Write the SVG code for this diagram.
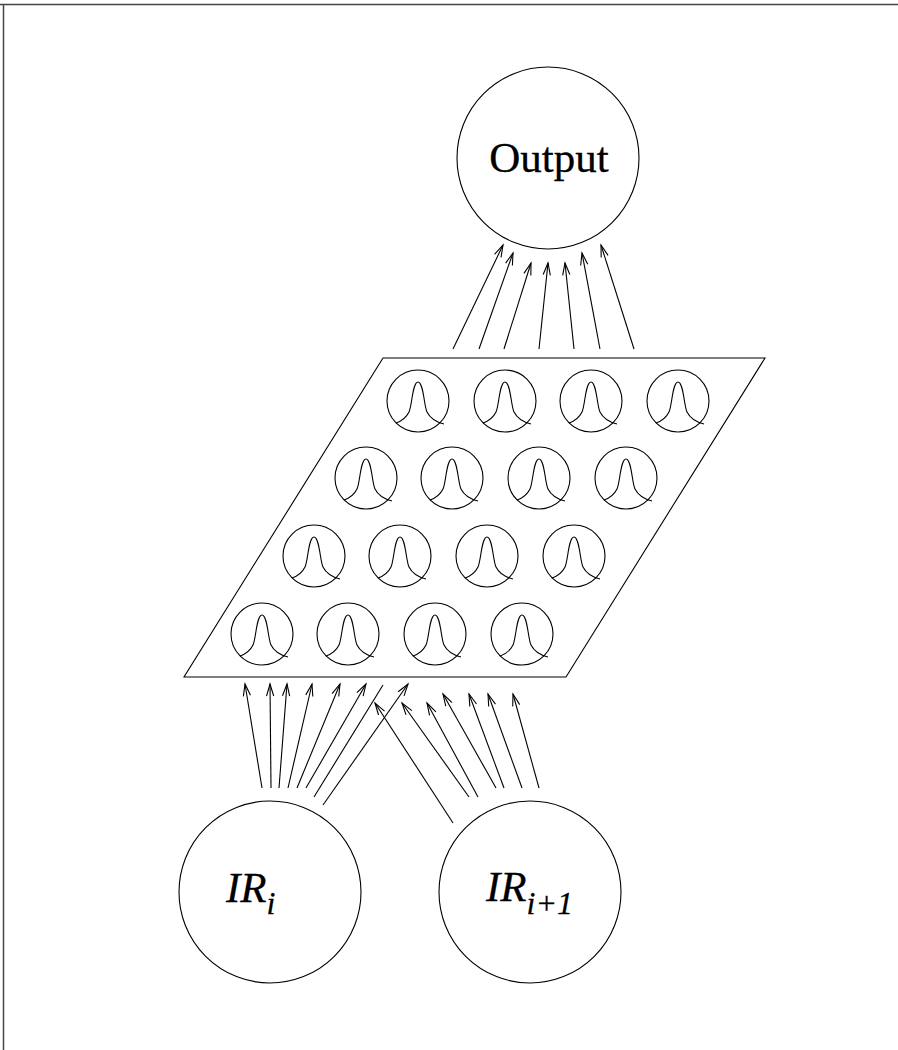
<svg xmlns="http://www.w3.org/2000/svg" xmlns:xlink="http://www.w3.org/1999/xlink" width="898" height="1050" viewBox="0 0 898 1050">
  <style>
    .node { fill: none; stroke: #000; stroke-width: 1.1; }
    .edge { fill: none; stroke: #000; stroke-width: 1.1; }
    .curve { fill: none; stroke: #000; stroke-width: 1.1; }
    .label { font-family: "Liberation Serif", "Times New Roman", serif; fill: #000; stroke: #000; stroke-width: 0.3; }
    .frame { stroke: #444; stroke-width: 1.5; }
  </style>
  <defs>
    <marker id="arrow" markerUnits="userSpaceOnUse" markerWidth="14" markerHeight="10" refX="0" refY="0" viewBox="-13 -5 14 10" orient="auto" overflow="visible">
      <path d="M-12,-3.6 L0,0 L-12,3.6" fill="none" stroke="#000" stroke-width="1.1"/>
    </marker>
    <!-- one radial-basis unit: ring with a bell-shaped response curve -->
    <g id="unit">
      <circle cx="0" cy="0" r="31" class="node"/>
      <path class="curve" d="M-22,22 C-16,20 -12,17 -9,11 C-6,5 -5.5,-19 0,-19 C5.5,-19 6,5 9,11 C12,17 18,21 26,23"/>
    </g>
  </defs>

  <rect x="0" y="0" width="898" height="1050" fill="#fff"/>
  <!-- page frame -->
  <line class="frame" x1="0" y1="4.5" x2="898" y2="4.5"/>
  <line class="frame" x1="3.5" y1="4" x2="3.5" y2="1050"/>

  <g id="output-node">
    <circle cx="548" cy="158" r="91" class="node"/>
    <text class="label" x="549" y="172" font-size="43" text-anchor="middle">Output</text>
  </g>

  <g id="rbf-layer">
    <polygon class="node" points="383,358 765,358 566,677 184,677"/>
    <use xlink:href="#unit" x="418" y="401"/>
    <use xlink:href="#unit" x="505" y="401"/>
    <use xlink:href="#unit" x="591" y="401"/>
    <use xlink:href="#unit" x="678" y="401"/>
    <use xlink:href="#unit" x="366" y="478"/>
    <use xlink:href="#unit" x="452" y="478"/>
    <use xlink:href="#unit" x="539" y="478"/>
    <use xlink:href="#unit" x="626" y="478"/>
    <use xlink:href="#unit" x="314" y="556"/>
    <use xlink:href="#unit" x="400" y="556"/>
    <use xlink:href="#unit" x="487" y="556"/>
    <use xlink:href="#unit" x="574" y="556"/>
    <use xlink:href="#unit" x="262" y="634"/>
    <use xlink:href="#unit" x="348" y="634"/>
    <use xlink:href="#unit" x="435" y="634"/>
    <use xlink:href="#unit" x="522" y="634"/>
  </g>

  <g id="input-ir-i">
    <circle cx="270" cy="892" r="91" class="node"/>
    <text class="label" x="226" y="902" font-size="43" font-style="italic">IR<tspan font-size="32" dy="12">i</tspan></text>
  </g>

  <g id="input-ir-i1">
    <circle cx="530" cy="892" r="91" class="node"/>
    <text class="label" x="486" y="901" font-size="43" font-style="italic">IR<tspan font-size="32" dy="13">i+1</tspan></text>
  </g>

  <g id="connectors">
    <!-- layer to output -->
    <line class="edge" x1="453" y1="349" x2="503" y2="245" marker-end="url(#arrow)"/>
    <line class="edge" x1="479" y1="349" x2="513" y2="253" marker-end="url(#arrow)"/>
    <line class="edge" x1="504" y1="349" x2="531" y2="263" marker-end="url(#arrow)"/>
    <line class="edge" x1="539" y1="349" x2="548" y2="263" marker-end="url(#arrow)"/>
    <line class="edge" x1="574" y1="349" x2="565" y2="263" marker-end="url(#arrow)"/>
    <line class="edge" x1="600" y1="349" x2="582" y2="253" marker-end="url(#arrow)"/>
    <line class="edge" x1="634" y1="349" x2="601" y2="245" marker-end="url(#arrow)"/>

    <!-- IR_i to layer -->
    <line class="edge" x1="262" y1="788" x2="245" y2="684" marker-end="url(#arrow)"/>
    <line class="edge" x1="271" y1="788" x2="270" y2="684" marker-end="url(#arrow)"/>
    <line class="edge" x1="279" y1="788" x2="287" y2="684" marker-end="url(#arrow)"/>
    <line class="edge" x1="288" y1="788" x2="312" y2="684" marker-end="url(#arrow)"/>
    <line class="edge" x1="297" y1="788" x2="340" y2="684" marker-end="url(#arrow)"/>
    <line class="edge" x1="306" y1="788" x2="366" y2="684" marker-end="url(#arrow)"/>
    <line class="edge" x1="314" y1="797" x2="383" y2="685"/>
    <line class="edge" x1="323" y1="805" x2="408" y2="684" marker-end="url(#arrow)"/>

    <!-- IR_i+1 to layer -->
    <line class="edge" x1="453" y1="823" x2="375" y2="703" marker-end="url(#arrow)"/>
    <line class="edge" x1="469" y1="797" x2="402" y2="703" marker-end="url(#arrow)"/>
    <line class="edge" x1="478" y1="797" x2="427" y2="703" marker-end="url(#arrow)"/>
    <line class="edge" x1="496" y1="788" x2="443" y2="694" marker-end="url(#arrow)"/>
    <line class="edge" x1="504" y1="788" x2="469" y2="694" marker-end="url(#arrow)"/>
    <line class="edge" x1="522" y1="788" x2="488" y2="694" marker-end="url(#arrow)"/>
    <line class="edge" x1="539" y1="788" x2="513" y2="694" marker-end="url(#arrow)"/>
  </g>
</svg>
